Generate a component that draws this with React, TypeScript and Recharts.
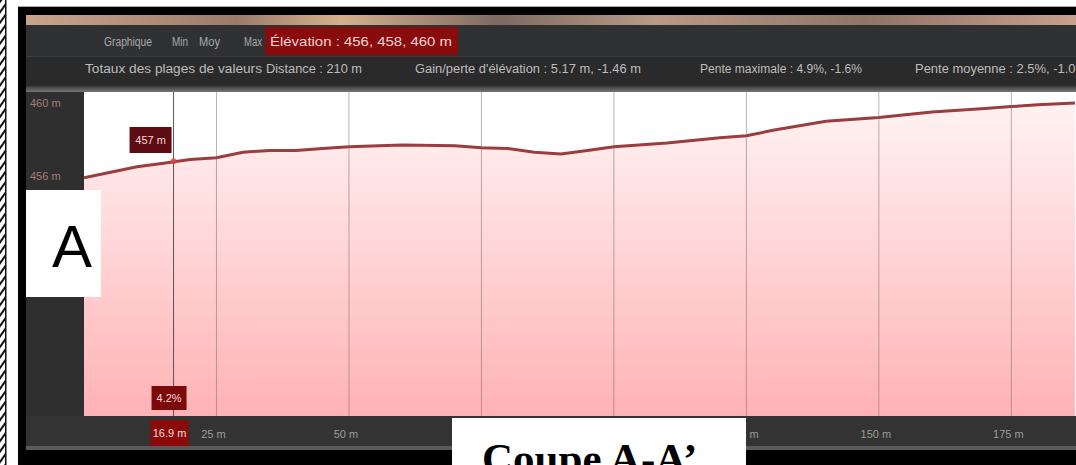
import { ComposedChart, Area, XAxis, YAxis, CartesianGrid, ReferenceLine, ReferenceDot } from "recharts";

// profile: distance (m) -> elevation (m)
const distances = [0, 5, 10, 15, 20, 25, 30, 35, 40, 45, 50, 60, 70, 75, 80, 85, 90, 95, 100, 110, 120, 125, 130, 140, 150, 160, 170, 175, 180, 187];
const elevations = [455.9, 456.2, 456.5, 456.7, 456.9, 457.0, 457.3, 457.4, 457.4, 457.5, 457.6, 457.7, 457.65, 457.55, 457.5, 457.3, 457.2, 457.4, 457.6, 457.8, 458.1, 458.2, 458.5, 459.0, 459.2, 459.5, 459.7, 459.8, 459.9, 460.0];

const xTicks = [25, 50, 75, 100, 125, 150, 175];
// labels of 75 m and 100 m sit under the "Coupe" box in the picture
const hiddenTickLabels = [75, 100];
const yTicks = [456, 460];

const cursorDistance = 16.9;
const cursorElevation = 456.8;
const cursorElevationLabel = "457 m";
const cursorSlopeLabel = "4.2%";
const cursorDistanceLabel = "16.9 m";

const graphLabels = ["Graphique", "Min", "Moy", "Max"];
const elevationSummary = "Élévation : 456, 458, 460 m";
const statLabels = [
  "Totaux des plages de valeurs",
  "Distance : 210 m",
  "Gain/perte d'élévation : 5.17 m, -1.46 m",
  "Pente maximale : 4.9%, -1.6%",
  "Pente moyenne : 2.5%, -1.0%",
];

const data = distances.map((d, i) => ({ d, elev: elevations[i] }));

const FONT = "'Liberation Sans', Arial, sans-serif";

function Frame() {
  const graphX = [104, 172, 199, 244];
  const graphW = [48, 16, 21, 18];
  const statX = [85, 266, 415, 700, 915];
  const statW = [177, 96, 226, 162, 172];
  return (
    <svg width={1076} height={465} style={{ position: "absolute", left: 0, top: 0 }}>
      <defs>
        <pattern id="hatch" width="6" height="6" patternUnits="userSpaceOnUse" patternTransform="rotate(35)">
          <rect width="6" height="6" fill="#fff" />
          <rect width="2" height="6" fill="#111" />
        </pattern>
        <linearGradient id="strip" x1="0" y1="0" x2="1" y2="0">
          <stop offset="0" stopColor="#c9a58c" />
          <stop offset="0.2" stopColor="#9c7c6a" />
          <stop offset="0.3" stopColor="#d6b08c" />
          <stop offset="0.45" stopColor="#7e6a62" />
          <stop offset="0.6" stopColor="#b89a86" />
          <stop offset="0.8" stopColor="#8f7468" />
          <stop offset="1" stopColor="#c8a08c" />
        </linearGradient>
        <linearGradient id="edge" x1="0" y1="0" x2="0" y2="1">
          <stop offset="0" stopColor="#3a3a3a" />
          <stop offset="1" stopColor="#777" />
        </linearGradient>
      </defs>
      <rect width={1076} height={465} fill="#fff" />
      <rect x={0} y={0} width={5} height={465} fill="url(#hatch)" />
      <rect x={5} y={0} width={1.5} height={465} fill="#111" />
      <rect x={18} y={6} width={1058} height={1} fill="#aaa" />
      <rect x={18} y={7} width={1058} height={8} fill="#000" />
      <rect x={18} y={7} width={8} height={458} fill="#000" />
      <rect x={26} y={15} width={1050} height={11} fill="url(#strip)" />
      <rect x={26} y={25} width={1050} height={31} fill="#2f3133" />
      <rect x={26} y={56} width={1050} height={30} fill="#2a2a2a" />
      <rect x={26} y={56} width={1050} height={1} fill="#3d3d3d" />
      <rect x={26} y={86} width={1050} height={6} fill="url(#edge)" />
      <rect x={26} y={92} width={60} height={354} fill="#2f2f2f" />
      <rect x={26} y={416} width={1050} height={30} fill="#333" />
      <rect x={26} y={446} width={1050} height={4} fill="#5a5a5a" />
      <rect x={18} y={450} width={1058} height={15} fill="#000" />

      {graphLabels.map((t, i) => (
        <text key={t} x={graphX[i]} y={46} fontFamily={FONT} fontSize={12} fill="#a9a9a9" textLength={graphW[i]} lengthAdjust="spacingAndGlyphs">
          {t}
        </text>
      ))}
      <rect x={265} y={27} width={193} height={28} fill="#8a0b0b" />
      <text x={270} y={46} fontFamily={FONT} fontSize={12} fill="#f0d4d4" textLength={182} lengthAdjust="spacingAndGlyphs">
        {elevationSummary}
      </text>
      {statLabels.map((t, i) => (
        <text key={t} x={statX[i]} y={73} fontFamily={FONT} fontSize={12} fill="#bdbdbd" textLength={statW[i]} lengthAdjust="spacingAndGlyphs">
          {t}
        </text>
      ))}
    </svg>
  );
}

function Overlays() {
  return (
    <svg width={1076} height={465} style={{ position: "absolute", left: 0, top: 0, pointerEvents: "none" }}>
      <rect x={26} y={190} width={75} height={107} fill="#fff" />
      <text x={52} y={267} fontFamily={FONT} fontSize={60} fill="#000">A</text>
      <rect x={452} y={418} width={294} height={47} fill="#fff" />
      <text x={482} y={473} fontFamily="'Liberation Serif', 'Times New Roman', serif" fontWeight="bold" fontSize={43} fill="#000">
        Coupe A-A’
      </text>
    </svg>
  );
}

function CursorLabels(props: any) {
  const vb = props.viewBox || {};
  const x = vb.x ?? 0;
  const top = vb.y ?? 0;
  const bottom = top + (vb.height ?? 0);
  return (
    <g>
      <rect x={x - 44} y={top + 35} width={42} height={26} fill="#5e0b12" />
      <text x={x - 23} y={top + 52} textAnchor="middle" fontFamily={FONT} fontSize={11} fill="#f2d8d8">
        {cursorElevationLabel}
      </text>
      <rect x={x - 22} y={bottom - 30} width={35} height={24} fill="#7c0a0a" />
      <text x={x - 4.5} y={bottom - 14} textAnchor="middle" fontFamily={FONT} fontSize={11} fill="#f2dcdc">
        {cursorSlopeLabel}
      </text>
      <rect x={x - 23} y={bottom + 4} width={38} height={26} fill="#8b0b0b" />
      <text x={x - 4} y={bottom + 21} textAnchor="middle" fontFamily={FONT} fontSize={11} fill="#f2dcdc">
        {cursorDistanceLabel}
      </text>
    </g>
  );
}

function YTick(props: any) {
  const { y, payload } = props;
  return (
    <text x={30} y={y + 4} fontFamily={FONT} fontSize={11} fill="#a87a7a">
      {payload.value} m
    </text>
  );
}

function XTick(props: any) {
  const { x, payload } = props;
  if (hiddenTickLabels.includes(payload.value)) return <g />;
  return (
    <text x={x - 3} y={438} textAnchor="middle" fontFamily={FONT} fontSize={11} fill="#9c9c9c">
      {payload.value} m
    </text>
  );
}

export default function App() {
  return (
    <div style={{ position: "relative", width: 1076, height: 465, overflow: "hidden" }}>
      <style>{`body{margin:0}`}</style>
      <Frame />
      <div style={{ position: "absolute", left: 0, top: 0 }}>
        <ComposedChart width={1076} height={465} data={data} margin={{ top: 92, right: 0, bottom: 19, left: 26 }}>
          <defs>
            <linearGradient id="elevFill" x1="0" y1="0" x2="0" y2="1">
              <stop offset="0%" stopColor="#fff2f2" />
              <stop offset="30%" stopColor="#ffe0e1" />
              <stop offset="100%" stopColor="#ffb2b5" />
            </linearGradient>
          </defs>
          <CartesianGrid horizontal={false} vertical={false} fill="#ffffff" />
          <XAxis
            type="number"
            dataKey="d"
            domain={[0, 187.2]}
            ticks={xTicks}
            tick={<XTick />}
            axisLine={false}
            tickLine={false}
            height={30}
            allowDataOverflow
          />
          <YAxis
            type="number"
            domain={[442.85, 460.6]}
            ticks={yTicks}
            tick={<YTick />}
            axisLine={false}
            tickLine={false}
            width={58}
            allowDataOverflow
          />
          <Area
            type="linear"
            dataKey="elev"
            stroke="#9b3c3e"
            strokeWidth={3}
            fill="url(#elevFill)"
            fillOpacity={1}
            dot={false}
            activeDot={false}
            isAnimationActive={false}
          />
          {xTicks.map((t) => (
            <ReferenceLine key={t} x={t} stroke="#7a6464" strokeOpacity={0.5} strokeWidth={1} />
          ))}
          <ReferenceLine x={cursorDistance} stroke="#555" strokeWidth={1} ifOverflow="visible" label={<CursorLabels />} />
          <ReferenceDot x={cursorDistance} y={cursorElevation} r={3} fill="#d84a4a" stroke="none" fillOpacity={0.8} />
        </ComposedChart>
      </div>
      <Overlays />
    </div>
  );
}
